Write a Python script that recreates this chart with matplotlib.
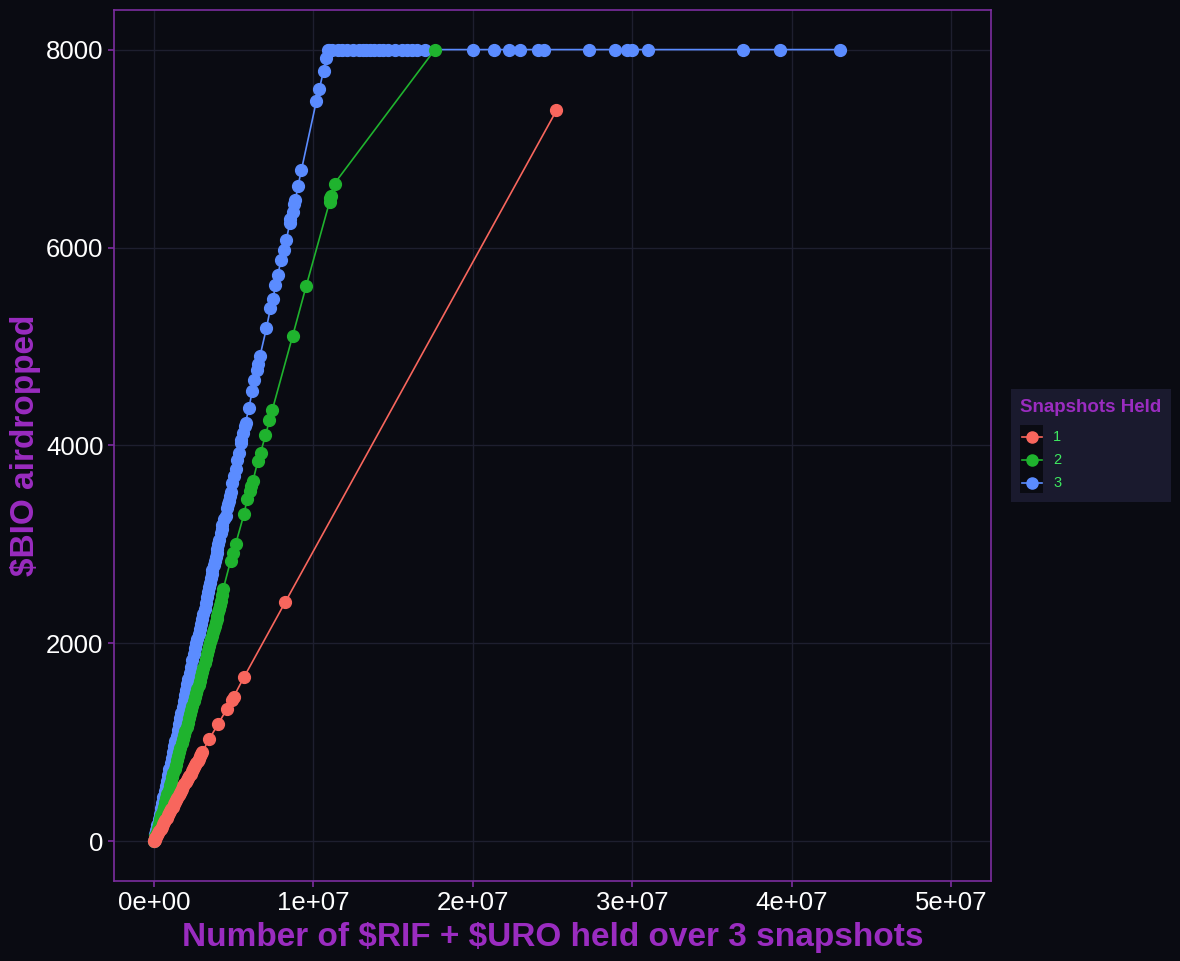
import matplotlib.pyplot as plt
from matplotlib.lines import Line2D
from matplotlib.patches import Rectangle

# data
blue_x = [0, 0.05e6, 0.1e6, 0.15e6, 0.22e6, 0.3e6, 0.37e6, 0.45e6, 0.52e6, 0.6e6, 0.67e6,
          0.75e6, 0.82e6, 0.9e6, 0.97e6, 1.05e6, 1.12e6, 1.2e6, 1.27e6, 1.35e6, 1.42e6,
          1.5e6, 1.57e6, 1.65e6, 1.72e6, 1.8e6, 1.87e6, 1.95e6, 2.02e6, 2.1e6, 2.17e6,
          2.25e6, 2.33e6, 2.42e6, 2.5e6, 2.58e6, 2.65e6, 2.73e6, 2.8e6, 2.88e6, 2.96e6,
          3.04e6, 3.11e6, 3.18e6, 3.25e6, 3.31e6, 3.38e6, 3.45e6, 3.5e6, 3.56e6, 3.62e6,
          3.67e6, 3.77e6, 3.83e6, 3.88e6, 3.93e6, 3.98e6, 4.04e6, 4.1e6, 4.19e6, 4.25e6,
          4.3e6, 4.4e6, 4.5e6, 4.6e6, 4.65e6, 4.71e6, 4.77e6, 4.82e6, 4.92e6, 5.02e6,
          5.125e6, 5.23e6, 5.33e6, 5.44e6, 5.48e6, 5.6e6, 5.69e6, 5.75e6, 5.96e6, 6.17e6,
          6.31e6, 6.45e6, 6.52e6, 6.65e6, 7.06e6, 7.31e6, 7.48e6, 7.62e6, 7.77e6, 7.98e6,
          8.14e6, 8.31e6, 8.52e6, 8.56e6, 8.73e6, 8.77e6, 8.875e6, 9.04e6, 9.25e6, 1.019e7,
          1.0375e7, 1.064e7, 1.081e7, 1.0925e7, 1.10e7, 1.12e7, 1.1525e7, 1.18e7,
          1.2125e7, 1.25e7, 1.284e7, 1.31e7, 1.33e7, 1.356e7, 1.38e7, 1.41e7, 1.4375e7,
          1.47e7, 1.5125e7, 1.559e7, 1.59e7, 1.619e7, 1.65e7, 1.7025e7, 2.0e7, 2.131e7,
          2.225e7, 2.294e7, 2.406e7, 2.444e7, 2.731e7, 2.891e7, 2.969e7, 3.0e7, 3.1e7,
          3.694e7, 3.925e7, 4.3e7]
blue_y = [0, 36, 75, 112, 165, 225, 280, 338, 390, 450, 505,
          563, 615, 675, 730, 790, 845, 905, 960, 1015, 1070,
          1130, 1185, 1245, 1300, 1360, 1415, 1475, 1530, 1590, 1645,
          1705, 1765, 1830, 1890, 1950, 2000, 2045, 2100, 2150, 2200,
          2247, 2300, 2350, 2410, 2470, 2520, 2570, 2615, 2660, 2700,
          2740, 2790, 2830, 2870, 2910, 2950, 3000, 3050, 3120, 3160,
          3200, 3260, 3290, 3370, 3405, 3440, 3485, 3530, 3620, 3690,
          3760, 3850, 3926, 4030, 4060, 4130, 4195, 4230, 4380, 4547,
          4665, 4760, 4826, 4900, 5186, 5387, 5481, 5622, 5723, 5874,
          5975, 6076, 6247, 6292, 6361, 6445, 6479, 6623, 6781, 7479,
          7597, 7788, 7917, 8000, 8000, 8000, 8000, 8000,
          8000, 8000, 8000, 8000, 8000, 8000, 8000, 8000, 8000,
          8000, 8000, 8000, 8000, 8000, 8000, 8000, 8000, 8000,
          8000, 8000, 8000, 8000, 8000, 8000, 8000, 8000, 8000,
          8000, 8000, 8000]

green_x = [0, 0.05e6, 0.1e6, 0.18e6, 0.25e6, 0.32e6, 0.4e6, 0.47e6, 0.55e6, 0.62e6, 0.7e6,
           0.77e6, 0.85e6, 0.92e6, 1.0e6, 1.07e6, 1.15e6, 1.22e6, 1.3e6, 1.37e6, 1.45e6,
           1.52e6, 1.6e6, 1.67e6, 1.75e6, 1.82e6, 1.9e6, 1.97e6, 2.05e6, 2.12e6, 2.2e6,
           2.27e6, 2.35e6, 2.42e6, 2.5e6, 2.57e6, 2.65e6, 2.72e6, 2.8e6, 2.87e6, 2.95e6,
           3.02e6, 3.1e6, 3.18e6, 3.25e6, 3.32e6, 3.38e6, 3.45e6, 3.52e6, 3.58e6, 3.65e6,
           3.71e6, 3.77e6, 3.83e6, 3.88e6, 3.93e6, 3.98e6, 4.03e6, 4.08e6, 4.13e6, 4.19e6,
           4.27e6, 4.35e6, 4.81e6, 4.96e6, 5.125e6, 5.65e6, 5.85e6, 6.02e6, 6.1e6, 6.21e6,
           6.52e6, 6.69e6, 7.0e6, 7.25e6, 7.42e6, 8.71e6, 9.56e6, 1.102e7, 1.106e7,
           1.11e7, 1.133e7, 1.7625e7]
green_y = [0, 28, 55, 100, 140, 180, 225, 265, 310, 350, 395,
           435, 480, 520, 565, 605, 650, 690, 735, 775, 820,
           860, 905, 945, 990, 1030, 1075, 1115, 1160, 1200, 1245,
           1285, 1330, 1370, 1415, 1455, 1500, 1540, 1585, 1625, 1670,
           1710, 1755, 1800, 1844, 1890, 1930, 1970, 2012, 2045, 2080,
           2115, 2146, 2180, 2215, 2250, 2280, 2315, 2350, 2390, 2431,
           2490, 2549, 2834, 2918, 3002, 3305, 3456, 3539, 3590, 3640,
           3842, 3926, 4103, 4254, 4355, 5111, 5615, 6462, 6500,
           6522, 6647, 8000]

red_x = [0, 0.05e6, 0.1e6, 0.15e6, 0.2e6, 0.27e6, 0.35e6, 0.42e6, 0.5e6, 0.57e6, 0.65e6,
         0.72e6, 0.8e6, 0.87e6, 0.95e6, 1.02e6, 1.1e6, 1.17e6, 1.25e6, 1.32e6, 1.4e6,
         1.47e6, 1.55e6, 1.62e6, 1.7e6, 1.77e6, 1.85e6, 1.92e6, 2.0e6, 2.07e6, 2.15e6,
         2.22e6, 2.3e6, 2.37e6, 2.45e6, 2.52e6, 2.6e6, 2.67e6, 2.75e6, 2.82e6, 2.9e6,
         2.97e6, 3.04e6, 3.46e6, 4.04e6, 4.56e6, 4.9e6, 5.0e6, 5.65e6, 8.25e6, 2.525e7]
red_y = [0, 15, 30, 45, 60, 82, 105, 127, 150, 172, 195,
         217, 240, 262, 285, 307, 330, 352, 375, 397, 420,
         442, 465, 487, 510, 532, 555, 577, 600, 620, 640,
         662, 685, 707, 730, 750, 770, 792, 815, 837, 860,
         882, 904, 1031, 1189, 1333, 1430, 1460, 1659, 2421, 7385]

# drawn in this order: blue first, red last on top
series = [('3', blue_x, blue_y, '#5b8cff'),
          ('2', green_x, green_y, '#1fb32e'),
          ('1', red_x, red_y, '#f8665d')]

bg = '#0a0b12'
purple = '#9a2cc0'
border = '#7b2d9f'
grid = '#1e1f2f'
W, H = 1180, 961

plt.rcParams['font.family'] = ['Liberation Sans', 'DejaVu Sans']

fig = plt.figure(figsize=(W / 100, H / 100), dpi=100, facecolor=bg)
ax = fig.add_axes([114 / W, 80 / H, 877 / W, 871 / H], facecolor=bg)

for i, (lab, xs, ys, col) in enumerate(series):
    ax.plot(xs, ys, '-', color=col, lw=1.2, marker='o', ms=8.5, mec=col, mfc=col,
            zorder=3 + i)

ax.set_xlim(-2.5e6, 5.25e7)
ax.set_ylim(-400, 8400)
ax.set_xticks([0, 1e7, 2e7, 3e7, 4e7, 5e7])
ax.set_xticklabels(['0e+00', '1e+07', '2e+07', '3e+07', '4e+07', '5e+07'])
ax.set_yticks([0, 2000, 4000, 6000, 8000])
ax.grid(True, color=grid, lw=1)
ax.set_axisbelow(True)
for s in ax.spines.values():
    s.set_color(border)
    s.set_linewidth(1.2)
ax.tick_params(colors=border, labelcolor='white', labelsize=18.5, length=4, width=1.2)

ax.set_xlabel(r'Number of \$RIF + \$URO held over 3 snapshots', color=purple,
              fontsize=24, fontweight='bold', labelpad=5)
ax.set_ylabel(r'\$BIO airdropped', color=purple, fontsize=24, fontweight='bold',
              labelpad=3.5)

# legend, laid out by hand like the ggplot guide
def fx(px):
    return px / W

def fy(py):
    return 1 - py / H

fig.add_artist(Rectangle((fx(1011), fy(502)), 160 / W, 113 / H, transform=fig.transFigure,
                         facecolor='#1a1a2e', edgecolor='none'))
fig.add_artist(Rectangle((fx(1020), fy(493)), 23 / W, 68 / H, transform=fig.transFigure,
                         facecolor=bg, edgecolor='none'))
fig.text(fx(1020), fy(408), 'Snapshots Held', color=purple, fontsize=13.5,
         fontweight='bold', va='center', ha='left')
for lab, py, col in [('1', 437, '#f8665d'), ('2', 460, '#1fb32e'), ('3', 483, '#5b8cff')]:
    fig.add_artist(Line2D([fx(1022), fx(1042)], [fy(py), fy(py)], transform=fig.transFigure,
                          color=col, lw=1.2))
    fig.add_artist(Line2D([fx(1032)], [fy(py)], transform=fig.transFigure, color=col,
                          marker='o', ms=8, mec=col, mfc=col))
    fig.text(fx(1053), fy(py), lab, color='#3ee860', fontsize=10.5, va='center', ha='left')

fig.savefig('out.png', dpi=100, facecolor=bg)
